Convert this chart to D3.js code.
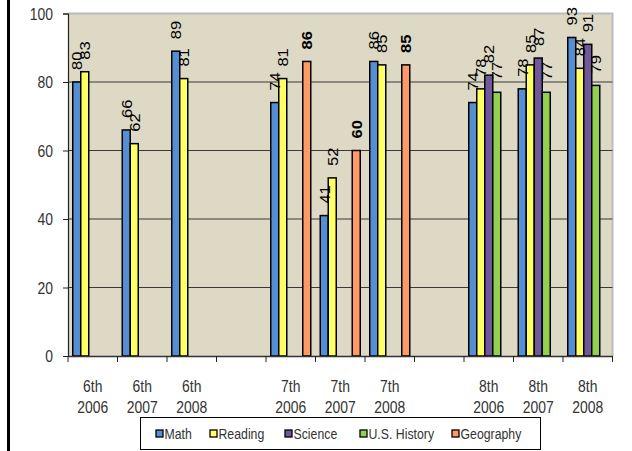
<!DOCTYPE html>
<html>
<head>
<meta charset="utf-8">
<script src="https://cdn.jsdelivr.net/npm/d3@7"></script>
<style>
  body { margin: 0; background: #fff; }
  svg { display: block; }
</style>
</head>
<body>
<div class="viz"></div>
<script>
const width = 632;
const height = 451;

// categories (blank ones are the spacer slots between grades)
const categories = ["6th|2006", "6th|2007", "6th|2008", "", "7th|2006", "7th|2007", "7th|2008", " ", "8th|2006", "8th|2007", "8th|2008"];
const seriesNames = ["Math", "Reading", "Science", "U.S. History", "Geography"];
const seriesColors = ["#558ed5", "#ffff66", "#71589a", "#92d050", "#ff9966"];

// values per category, null = no bar
const math      = [80, 66, 89, null, 74, 41, 86, null, 74, 78, 93];
const reading   = [83, 62, 81, null, 81, 52, 85, null, 78, 85, 84];
const science   = [null, null, null, null, null, null, null, null, 82, 87, 91];
const history   = [null, null, null, null, null, null, null, null, 77, 77, 79];
const geography = [null, null, null, null, 86, 60, 85, null, null, null, null];
const yTicks = [0, 20, 40, 60, 80, 100];

const seriesValues = [math, reading, science, history, geography];

const margin = { left: 68, right: 612.5, top: 13.5, bottom: 356 };
const narrow = "scale(0.82,1)"; // squeeze text to look like Arial Narrow
const font = "Liberation Sans, Arial, sans-serif";

const svg = d3.select(".viz")
    .append("svg")
    .attr("width", width)
    .attr("height", height);

// black rule on the left edge
svg.append("rect")
    .attr("x", 7).attr("y", 0)
    .attr("width", 3).attr("height", height)
    .attr("fill", "#000");

const x0 = d3.scaleBand()
    .domain(categories)
    .range([margin.left, margin.right])
    .paddingInner(0).paddingOuter(0);

const x1 = d3.scaleBand()
    .domain(seriesNames)
    .range([4.75, x0.bandwidth() - 4.75]);

const y = d3.scaleLinear()
    .domain([0, 100])
    .range([margin.bottom, margin.top]);

// plot background
svg.append("rect")
    .attr("x", margin.left)
    .attr("y", margin.top)
    .attr("width", margin.right - margin.left)
    .attr("height", margin.bottom - margin.top)
    .attr("fill", "#ddd9c4");

// top + right border
svg.append("path")
    .attr("d", `M${margin.left},${margin.top}H${margin.right}V${margin.bottom}`)
    .attr("fill", "none")
    .attr("stroke", "#bcbcbc")
    .attr("stroke-width", 2);

// gridlines
svg.selectAll(".grid")
    .data(yTicks.filter(d => d > 0 && d < 100))
    .enter()
    .append("line")
    .attr("class", "grid")
    .attr("x1", margin.left)
    .attr("x2", margin.right)
    .attr("y1", d => y(d))
    .attr("y2", d => y(d))
    .attr("stroke", "#3a3a3a")
    .attr("stroke-width", 1.2);

// bars
const points = [];
seriesValues.forEach((vals, si) => {
    vals.forEach((v, ci) => {
        if (v != null) points.push({ cat: categories[ci], series: seriesNames[si], si: si, value: v });
    });
});

svg.selectAll(".bar")
    .data(points)
    .enter()
    .append("rect")
    .attr("class", "bar")
    .attr("x", d => x0(d.cat) + x1(d.series))
    .attr("y", d => y(d.value))
    .attr("width", x1.bandwidth())
    .attr("height", d => y(0) - y(d.value))
    .attr("fill", d => seriesColors[d.si])
    .attr("stroke", "#000")
    .attr("stroke-width", 1.5);

// rotated value labels (a bit stretched along their length like the original)
svg.selectAll(".label")
    .data(points)
    .enter()
    .append("text")
    .attr("class", "label")
    .attr("transform", d => {
        const cx = x0(d.cat) + x1(d.series) + x1.bandwidth() / 2;
        return `translate(${cx},${y(d.value) - 12}) scale(1,1.1) rotate(-90)`;
    })
    .attr("dy", "0.35em")
    .attr("text-anchor", "start")
    .style("font-family", font)
    .style("font-size", "15px")
    .style("font-weight", d => d.si === 4 ? "bold" : "normal")
    .style("fill", "#000")
    .text(d => d.value);

// y axis (line + ticks from d3, labels drawn narrow by hand)
const yAxis = svg.append("g")
    .attr("transform", `translate(${margin.left},0)`)
    .call(d3.axisLeft(y).tickValues(yTicks).tickSize(5).tickFormat(""));
yAxis.select(".domain").attr("stroke", "#222").attr("stroke-width", 1.2);
yAxis.selectAll(".tick line").attr("stroke", "#222");

svg.selectAll(".ylabel")
    .data(yTicks)
    .enter()
    .append("text")
    .attr("class", "ylabel")
    .attr("transform", d => `translate(53,${y(d)}) ${narrow}`)
    .attr("dy", "0.36em")
    .attr("text-anchor", "end")
    .style("font-family", font)
    .style("font-size", "17px")
    .style("fill", "#333")
    .text(d => d);

// x axis
const xAxis = svg.append("g")
    .attr("transform", `translate(0,${margin.bottom})`)
    .call(d3.axisBottom(x0).tickSize(0).tickFormat(""));
xAxis.select(".domain").attr("stroke", "#333").attr("stroke-width", 1.5);

// tick marks at band edges
const edges = categories.map(c => x0(c)).concat([margin.right]);
svg.selectAll(".xtick")
    .data(edges)
    .enter()
    .append("line")
    .attr("class", "xtick")
    .attr("x1", d => d).attr("x2", d => d)
    .attr("y1", margin.bottom).attr("y2", margin.bottom + 6)
    .attr("stroke", "#222");

// category labels, two lines
const catLabels = svg.selectAll(".catlabel")
    .data(categories.filter(c => c.trim() !== ""))
    .enter()
    .append("text")
    .attr("class", "catlabel")
    .attr("transform", d => `translate(${x0(d) + x0.bandwidth() / 2},0) ${narrow}`)
    .attr("text-anchor", "middle")
    .style("font-family", font)
    .style("font-size", "17px")
    .style("fill", "#333");

catLabels.each(function (d) {
    const parts = d.split("|");
    d3.select(this).append("tspan").attr("x", 0).attr("y", 392).text(parts[0]);
    d3.select(this).append("tspan").attr("x", 0).attr("y", 413).text(parts[1]);
});

// legend
const legend = svg.append("g");
legend.append("rect")
    .attr("x", 140.5).attr("y", 417.5)
    .attr("width", 400).attr("height", 32)
    .attr("fill", "#fff")
    .attr("stroke", "#000");

const legendX = [156, 210, 285, 360, 452];
const items = legend.selectAll(".item")
    .data(seriesNames)
    .enter()
    .append("g")
    .attr("class", "item")
    .attr("transform", (d, i) => `translate(${legendX[i]},430)`);

items.append("rect")
    .attr("width", 7).attr("height", 7)
    .attr("fill", (d, i) => seriesColors[i])
    .attr("stroke", "#000")
    .attr("stroke-width", 1.3);

items.append("text")
    .attr("transform", `translate(8.5,8.5) ${narrow}`)
    .style("font-family", font)
    .style("font-size", "15px")
    .style("fill", "#333")
    .text(d => d);
</script>
</body>
</html>
